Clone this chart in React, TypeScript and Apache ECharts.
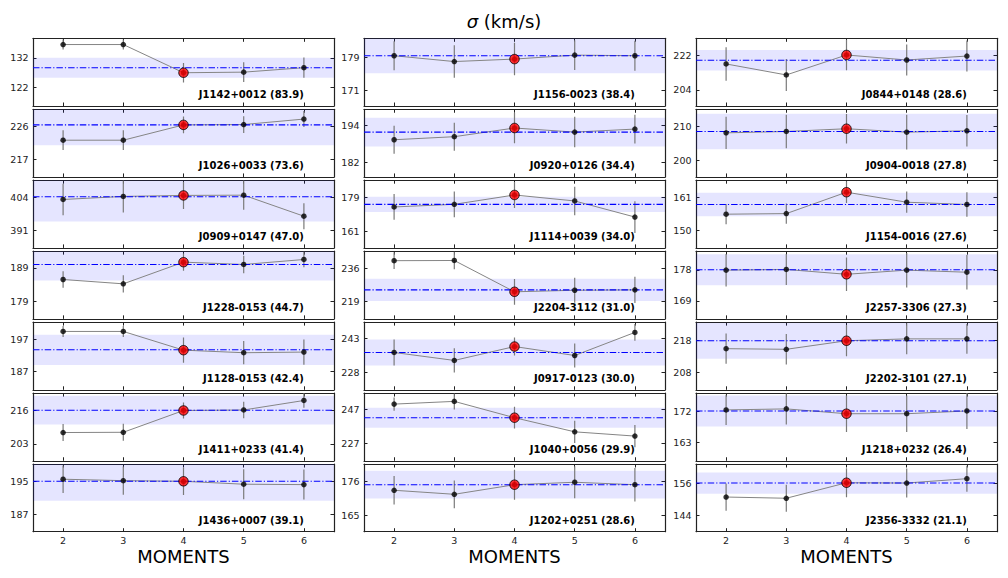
import React, { useEffect, useRef } from 'react';
import * as echarts from 'echarts';

// ---- data (column-major: left column top→bottom, then middle, then right) ----
const galaxyNames = [
  'J1142+0012', 'J1026+0033', 'J0909+0147', 'J1228-0153', 'J1128-0153', 'J1411+0233', 'J1436+0007',
  'J1156-0023', 'J0920+0126', 'J1114+0039', 'J2204-3112', 'J0917-0123', 'J1040+0056', 'J1202+0251',
  'J0844+0148', 'J0904-0018', 'J1154-0016', 'J2257-3306', 'J2202-3101', 'J1218+0232', 'J2356-3332',
];
const snrValues = [
  '83.9', '73.6', '47.0', '44.7', '42.4', '41.4', '39.1',
  '38.4', '34.4', '34.0', '31.0', '30.0', '29.9', '28.6',
  '28.6', '27.8', '27.6', '27.3', '27.1', '26.4', '21.1',
];
const moments = [2, 3, 4, 5, 6];
const bestMoment = 4;
const yMins = [
  115.8, 212.2, 384.0, 173.7, 181.4, 196.4, 182.9,
  167.3, 177.2, 152.1, 210.1, 220.1, 216.6, 159.7,
  195.7, 195.1, 144.3, 163.8, 202.4, 157.65, 138.1,
];
const yMaxs = [
  138.6, 230.8, 410.7, 194.0, 202.4, 222.8, 199.15,
  183.6, 199.4, 188.3, 244.9, 250.3, 256.4, 181.6,
  230.8, 214.9, 166.6, 183.4, 223.8, 177.3, 163.0,
];
const yTicks = [
  [122, 132], [217, 226], [391, 404], [179, 189], [187, 197], [203, 216], [187, 195],
  [171, 179], [182, 194], [161, 179], [219, 236], [228, 243], [227, 247], [165, 176],
  [204, 222], [200, 210], [150, 161], [169, 178], [208, 218], [163, 172], [144, 156],
];
const sigmaValues = [
  [136.5, 136.5, 127.0, 127.2, 128.7],
  [222.3, 222.3, 226.5, 226.6, 228.1],
  [403.1, 404.3, 404.7, 404.8, 396.5],
  [185.5, 184.2, 190.7, 190.0, 191.5],
  [199.5, 199.5, 193.7, 192.9, 193.1],
  [207.4, 207.5, 216.0, 216.2, 219.9],
  [195.5, 195.15, 195.0, 194.3, 194.2],
  [179.4, 178.0, 178.6, 179.55, 179.4],
  [189.4, 190.4, 193.25, 191.9, 192.9],
  [174.0, 175.4, 180.4, 177.2, 168.6],
  [240.0, 240.1, 224.0, 224.8, 225.0],
  [236.75, 233.2, 239.4, 235.4, 245.7],
  [249.9, 251.5, 241.9, 233.6, 231.1],
  [173.1, 171.8, 174.9, 175.7, 174.9],
  [217.5, 211.8, 222.15, 219.55, 221.6],
  [208.0, 208.4, 209.2, 208.2, 208.6],
  [155.4, 155.6, 162.65, 159.35, 158.6],
  [177.9, 178.1, 176.7, 177.9, 177.3],
  [215.4, 215.2, 217.9, 218.5, 218.5],
  [172.4, 172.7, 171.3, 171.3, 172.1],
  [150.85, 150.4, 156.1, 156.0, 157.6],
];
const sigmaErrors = [
  [1.7, 1.7, 3.3, 3.3, 3.4],
  [2.7, 2.7, 2.3, 2.3, 2.2],
  [6.2, 6.3, 5.4, 5.8, 5.1],
  [2.5, 2.6, 2.6, 2.6, 2.3],
  [1.7, 1.7, 3.9, 3.6, 3.9],
  [3.3, 3.3, 3.1, 3.2, 2.8],
  [3.3, 3.4, 3.3, 3.6, 3.6],
  [3.5, 3.9, 3.9, 3.6, 3.6],
  [4.6, 4.6, 5.0, 5.0, 4.7],
  [6.9, 6.9, 6.9, 7.6, 8.5],
  [4.3, 4.5, 6.6, 6.4, 6.7],
  [5.8, 5.4, 4.0, 5.3, 3.7],
  [3.9, 4.7, 6.4, 6.5, 6.5],
  [4.6, 4.5, 4.85, 5.2, 5.4],
  [8.7, 8.3, 7.9, 8.0, 8.0],
  [4.7, 4.9, 4.3, 5.1, 4.6],
  [3.35, 3.35, 3.6, 3.5, 4.0],
  [4.7, 4.5, 4.85, 5.0, 5.0],
  [4.8, 4.8, 4.9, 4.9, 4.7],
  [4.4, 4.5, 5.3, 5.3, 5.2],
  [5.0, 5.0, 5.3, 5.3, 4.8],
];
const meanSigma = [
  128.7, 226.5, 404.15, 190.0, 193.8, 216.1, 195.0,
  179.4, 191.9, 175.4, 225.0, 236.75, 241.9, 174.9,
  219.4, 208.4, 158.6, 178.0, 217.9, 172.1, 156.0,
];
const bandHalf = [
  3.35, 5.6, 9.75, 4.8, 4.7, 5.6, 4.7,
  4.2, 4.7, 4.1, 5.75, 5.8, 5.9, 4.5,
  5.35, 5.2, 3.85, 4.5, 5.7, 4.5, 3.9,
];
const xMin = 1.5;
const xMax = 6.5;
const titleText = '{i|σ} (km/s)';
const xAxisName = 'MOMENTS';

// ---- layout ----
const FONT = "'DejaVu Sans', sans-serif";
const COL_LEFT = [33, 364, 696];
const COL_W = 301;
const ROW_TOP = 38.3;
const ROW_PITCH = 70.95;
const ROW_H = 67.7;
const ROWS = 7;
const AXIS_COLOR = '#222';

function buildOption() {
  const grid: any[] = [];
  const xAxis: any[] = [];
  const yAxis: any[] = [];
  const series: any[] = [];
  const graphic: any[] = [];

  galaxyNames.forEach((name, p) => {
    const col = Math.floor(p / ROWS);
    const row = p % ROWS;
    const left = COL_LEFT[col];
    const top = ROW_TOP + ROW_PITCH * row;
    grid.push({ left, top, width: COL_W, height: ROW_H, containLabel: false });

    const isBottom = row === ROWS - 1;
    const tickCommon = {
      show: true,
      inside: true,
      length: 3.5,
      lineStyle: { color: AXIS_COLOR, width: 1 },
    };
    const lineCommon = { show: true, onZero: false, lineStyle: { color: AXIS_COLOR, width: 1.2 } };

    xAxis.push({
      type: 'value', gridIndex: p, min: xMin, max: xMax, position: 'bottom',
      axisLine: lineCommon,
      axisTick: { ...tickCommon, customValues: moments },
      axisLabel: {
        show: isBottom, customValues: moments, margin: 4,
        fontSize: 9.5, color: AXIS_COLOR, fontFamily: FONT,
      },
      splitLine: { show: false },
    });
    xAxis.push({
      type: 'value', gridIndex: p, min: xMin, max: xMax, position: 'top',
      axisLine: lineCommon,
      axisTick: { ...tickCommon, customValues: moments },
      axisLabel: { show: false },
      splitLine: { show: false },
    });
    yAxis.push({
      type: 'value', gridIndex: p, min: yMins[p], max: yMaxs[p], position: 'left',
      axisLine: lineCommon,
      axisTick: { ...tickCommon, customValues: yTicks[p] },
      axisLabel: {
        show: true, customValues: yTicks[p], margin: 4.5,
        fontSize: 9.5, color: AXIS_COLOR, fontFamily: FONT,
      },
      splitLine: { show: false },
    });
    yAxis.push({
      type: 'value', gridIndex: p, min: yMins[p], max: yMaxs[p], position: 'right',
      axisLine: lineCommon,
      axisTick: { ...tickCommon, customValues: yTicks[p] },
      axisLabel: { show: false },
      splitLine: { show: false },
    });

    const xi = 2 * p;
    const yi = 2 * p;
    const vals = sigmaValues[p];
    const errs = sigmaErrors[p];
    const pts = moments.map((m, i) => [m, vals[i]]);

    // shaded band
    series.push({
      type: 'custom', xAxisIndex: xi, yAxisIndex: yi, z: 1, silent: true,
      data: [[xMin, meanSigma[p] - bandHalf[p], meanSigma[p] + bandHalf[p]]],
      encode: { x: 0, y: [1, 2] },
      renderItem: (params: any, api: any) => {
        const a = api.coord([xMin, api.value(2)]);
        const b = api.coord([xMax, api.value(1)]);
        const cs = params.coordSys;
        const rect = echarts.graphic.clipRectByRect(
          { x: a[0], y: a[1], width: b[0] - a[0], height: b[1] - a[1] },
          { x: cs.x, y: cs.y, width: cs.width, height: cs.height }
        );
        if (!rect) return null;
        return { type: 'rect', shape: rect, style: { fill: 'rgba(0,0,255,0.1)' } };
      },
    });
    // error bars
    series.push({
      type: 'custom', xAxisIndex: xi, yAxisIndex: yi, z: 2, silent: true, clip: true,
      data: moments.map((m, i) => [m, vals[i] - errs[i], vals[i] + errs[i]]),
      encode: { x: 0, y: [1, 2] },
      renderItem: (params: any, api: any) => {
        const a = api.coord([api.value(0), api.value(1)]);
        const b = api.coord([api.value(0), api.value(2)]);
        return {
          type: 'line',
          shape: { x1: a[0], y1: a[1], x2: b[0], y2: b[1] },
          style: { stroke: '#7a7a7a', lineWidth: 1.2 },
        };
      },
    });
    // connecting line
    series.push({
      type: 'line', xAxisIndex: xi, yAxisIndex: yi, z: 3, silent: true,
      data: pts, showSymbol: false, symbol: 'none',
      lineStyle: { color: '#858585', width: 1 },
    });
    // mean line
    series.push({
      type: 'custom', xAxisIndex: xi, yAxisIndex: yi, z: 4, silent: true, clip: true,
      data: [[xMin, meanSigma[p]]],
      encode: { x: 0, y: 1 },
      renderItem: (params: any, api: any) => {
        const a = api.coord([xMin, api.value(1)]);
        const b = api.coord([xMax, api.value(1)]);
        return {
          type: 'line',
          shape: { x1: a[0], y1: a[1], x2: b[0], y2: b[1] },
          style: { stroke: '#0000ff', lineWidth: 1.1, lineDash: [6.5, 2, 1.2, 2] },
        };
      },
    });
    // points
    series.push({
      type: 'scatter', xAxisIndex: xi, yAxisIndex: yi, z: 5, silent: true,
      data: pts, symbolSize: 5.5,
      itemStyle: { color: '#000' },
    });
    // best moment (red)
    series.push({
      type: 'scatter', xAxisIndex: xi, yAxisIndex: yi, z: 6, silent: true,
      data: pts.filter((d) => d[0] === bestMoment), symbolSize: 9.5,
      itemStyle: { color: '#ff0000', borderColor: '#000', borderWidth: 1 },
    });

    graphic.push({
      type: 'text',
      x: left + ((6 - xMin) / (xMax - xMin)) * COL_W,
      y: top + ROW_H - 11.7,
      silent: true,
      style: {
        text: `${name} (${snrValues[p]})`,
        font: `bold 10px ${FONT}`,
        fill: '#000',
        align: 'right',
        verticalAlign: 'middle',
      },
    });
  });

  COL_LEFT.forEach((left) => {
    graphic.push({
      type: 'text',
      x: left + COL_W / 2,
      y: 556,
      silent: true,
      style: {
        text: xAxisName, font: `18px ${FONT}`, fill: '#000',
        align: 'center', verticalAlign: 'middle',
      },
    });
  });

  return {
    animation: false,
    backgroundColor: '#fff',
    title: {
      text: titleText,
      left: 'center',
      top: 7,
      textStyle: {
        fontSize: 18, fontWeight: 'normal', color: '#000', fontFamily: FONT,
        rich: { i: { fontStyle: 'italic', fontSize: 18, fontFamily: FONT, color: '#000' } },
      },
    },
    grid, xAxis, yAxis, series, graphic,
  };
}

export default function App() {
  const ref = useRef<HTMLDivElement>(null);
  useEffect(() => {
    document.body.style.margin = '0';
    if (!ref.current) return;
    const chart = echarts.init(ref.current, undefined, { renderer: 'svg' });
    chart.setOption(buildOption());
    return () => chart.dispose();
  }, []);
  return (
    <div
      ref={ref}
      style={{ position: 'absolute', left: 0, top: 0, width: 1008, height: 578 }}
    />
  );
}
